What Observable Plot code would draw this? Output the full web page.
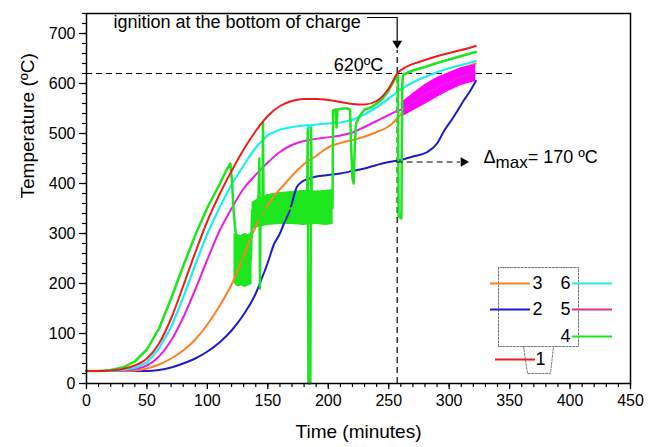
<!DOCTYPE html>
<html><head><meta charset="utf-8">
<script src="https://cdn.jsdelivr.net/npm/d3@7"></script>
<script src="https://cdn.jsdelivr.net/npm/@observablehq/plot@0.6"></script>
<style>body{margin:0;background:#fff;}</style>
</head><body><div id="chart"></div>
<script>
// ---- tick labels ----
const xTicks = [0, 50, 100, 150, 200, 250, 300, 350, 400, 450];
const yTicks = [0, 100, 200, 300, 400, 500, 600, 700];

// ---- series 1 (red) ----
const time1 = [0,10,20,30,40,50,60,70,80,90,100,110,120,130,140,150,160,170,180,190,200,210,220,230,240,250,257,265,275,285,295,305,315,322];
const temp1 = [25,25,26,29,36,50,80,130,195,262,325,378,425,468,505,535,555,565,569,569,567,563,559,558,565,590,620,634,643,651,658,664,670,675];

// ---- series 2 (blue) ----
const time2 = [0,20,40,50,60,70,80,90,100,110,120,130,140,145,150,155,160,163,168,174,178,182,190,200,210,220,230,240,250,258,270,282,290,296,302,307,312,316,320,322];
const temp2 = [25,25,25,25,27,32,40,50,64,82,106,138,180,210,242,278,300,318,345,393,403,408,414,417,420,425,430,437,443,446,454,463,480,506,527,546,566,580,596,605];

// ---- series 3 (orange) ----
const time3 = [0,20,30,40,50,60,70,80,90,100,110,120,130,137,145,155,165,175,182,190,196,202,210,220,229,240,247,252,258,265,273,283,293,303,313,322];
const temp3 = [25,25,25,26,30,38,50,66,88,118,155,198,255,298,338,374,402,428,443,455,466,475,481,487,493,503,510,518,533,550,566,587,606,620,632,640];

// ---- series 4 (green, noisy) ----
const time4 = [0,10,20,30,40,50,60,70,80,90,100,110,116,119,120.5,121.5,123,125,128,132,136,137,142,143,143.5,144,145.5,146,146.5,160,175,182.5,183,183.6,185.2,185.8,186.4,195,203.5,204,206,206.8,207.6,212,216,218,219,220,221,222,223,226,230,235,240,245,250,255,257.5,258.2,260.5,261.2,262,270,280,290,300,310,322];
const temp4 = [25,25,27,32,44,68,110,170,235,297,352,398,428,440,400,350,310,280,250,245,248,345,345,450,190,345,345,522,345,350,350,350,508,0,0,512,350,350,350,546,548,512,548,550,550,548,470,410,400,480,520,535,548,552,560,570,586,608,617,335,330,600,618,626,633,641,648,655,663];
// noise envelopes of series 4
const band4aTime = [122,125,128,131,134,137];
const band4aLow  = [200,193,195,192,195,198];
const band4aHigh = [300,298,296,300,298,302];
const band4bTime = [137,142,150,160,170,180,190,198,204];
const band4bLow  = [308,312,316,318,318,316,318,316,318];
const band4bHigh = [362,370,378,382,384,386,385,386,388];

// ---- series 5 (magenta) ----
const time5 = [0,10,20,30,40,50,60,70,80,90,100,110,120,130,141,150,160,169,182,195,210,220,230,240,250,258,261,270,280,290,300,310,322];
const temp5 = [25,25,25,26,29,36,54,86,132,188,248,305,350,390,420,442,463,476,486,491,496,502,513,525,537,546,548,562,578,592,603,614,620];
const band5Time = [261,270,280,290,300,310,322];
const band5Low  = [533,545,558,572,585,596,604];
const band5High = [563,580,598,612,622,632,638];

// ---- series 6 (cyan) ----
const time6 = [0,10,20,30,40,50,60,70,80,90,100,110,120,127,135,141,150,160,170,180,183,183.5,184,190,200,210,220,230,240,250,257,265,275,285,295,305,315,322];
const temp6 = [25,25,25,27,31,42,70,113,172,238,300,352,398,425,455,475,497,508,513,516,517,500,516,518,520,522,527,538,552,570,583,596,608,618,627,634,640,645];

// ---- annotation values ----
const ignitionTime = 257;
const isoTemp = 620;
const deltaTemp = 443;
const seriesNames = ["1","2","3","4","5","6"];

// ---- layout ----
const W = 664, H = 447;
const M = {left: 86, right: 34, top: 13, bottom: 64};
const xDomain = [0, 450], yDomain = [0, 740];
const px2t = px => xDomain[0] + (px - M.left) / (W - M.left - M.right) * (xDomain[1] - xDomain[0]);
const px2T = py => yDomain[0] + (H - M.bottom - py) / (H - M.top - M.bottom) * (yDomain[1] - yDomain[0]);

const C = {red: "#ee1c1c", blue: "#1c1ccc", orange: "#ff8024", green: "#1ee61e", cyan: "#19f0f0", magenta: "#e61ee6", band5: "#ff00ff", legend5: "#e6308a"};

const rows = (ts, vs) => ts.map((t, i) => ({t, v: vs[i]}));
const bands = (ts, lo, hi) => ts.map((t, i) => ({t, lo: lo[i], hi: hi[i]}));

const FONT = "'Liberation Sans', Arial, sans-serif";
const line = (ts, vs, color, sw, curve) => Plot.line(rows(ts, vs), {x: "t", y: "v", stroke: color, strokeWidth: sw, curve});

// legend geometry (pixels)
const legend = [
  {name: "3", color: C.orange, x1: 490, x2: 530, y: 283, lx: 537},
  {name: "2", color: C.blue,   x1: 490, x2: 530, y: 309, lx: 537},
  {name: "6", color: C.cyan,   x1: 572, x2: 612, y: 283, lx: 565},
  {name: "5", color: C.legend5,x1: 572, x2: 612, y: 309, lx: 565},
  {name: "4", color: C.green,  x1: 572, x2: 612, y: 336, lx: 565},
  {name: "1", color: C.red,    x1: 495, x2: 535, y: 359, lx: 540}
];
const boxPath = [[498,346],[498,267],[578,267],[578,346],[498,346]].map(([x,y]) => ({t: px2t(x), v: px2T(y)}));
const tabPath = [[523,346],[527,373],[550,373],[553,346]].map(([x,y]) => ({t: px2t(x), v: px2T(y)}));

const plot = Plot.plot({
  width: W, height: H,
  marginLeft: M.left, marginRight: M.right, marginTop: M.top, marginBottom: M.bottom,
  x: {domain: xDomain, label: null},
  y: {domain: yDomain, label: null},
  style: {fontFamily: FONT, background: "#fff", color: "#000"},
  marks: [
    Plot.ruleY([isoTemp], {x1: 0, x2: px2t(512), stroke: "#000", strokeWidth: 1.2, strokeDasharray: "6,4"}),
    Plot.ruleX([ignitionTime], {y1: 0, y2: px2T(50), stroke: "#000", strokeWidth: 1.2, strokeDasharray: "6,4"}),
    Plot.areaY(bands(band4aTime, band4aLow, band4aHigh), {x: "t", y1: "lo", y2: "hi", fill: C.green}),
    Plot.areaY(bands(band4bTime, band4bLow, band4bHigh), {x: "t", y1: "lo", y2: "hi", fill: C.green}),
    line(time2, temp2, C.blue, 2, "monotone-x"),
    line(time3, temp3, C.orange, 2, "monotone-x"),
    Plot.areaY(bands(band5Time, band5Low, band5High), {x: "t", y1: "lo", y2: "hi", fill: C.band5}),
    line(time5, temp5, C.magenta, 2, "monotone-x"),
    line(time6, temp6, C.cyan, 2.2, "linear"),
    line(time4, temp4, C.green, 2.5, "linear"),
    line(time1, temp1, C.red, 2, "monotone-x"),
    // Δmax arrow
    Plot.ruleY([deltaTemp], {x1: ignitionTime, x2: px2t(460), stroke: "#000", strokeWidth: 1.2, strokeDasharray: "6,4"}),
    Plot.dot([{t: px2t(463), v: deltaTemp}], {x: "t", y: "v", symbol: "triangle", r: 3.6, rotate: 90, fill: "#000", stroke: null}),
    // ignition bracket arrow
    Plot.line([{t: px2t(367), v: px2T(17)}, {t: ignitionTime, v: px2T(17)}, {t: ignitionTime, v: px2T(42)}], {x: "t", y: "v", stroke: "#000", strokeWidth: 1.2}),
    Plot.dot([{t: ignitionTime, v: px2T(43)}], {x: "t", y: "v", symbol: "triangle", r: 3.6, rotate: 180, fill: "#000", stroke: null}),
    Plot.text(["ignition at the bottom of charge"], {x: px2t(113), y: px2T(22), text: d => d, textAnchor: "start", fontSize: 18, fill: "#000"}),
    Plot.text([isoTemp + "ºC"], {x: px2t(358), y: px2T(65), text: d => d, fontSize: 18, fill: "#000"}),
    Plot.text(["Δmax= 170 ºC"], {x: px2t(483), y: px2T(157), text: d => d, textAnchor: "start", fontSize: 18, fill: "#000"}),
    // legend
    Plot.line(boxPath, {x: "t", y: "v", stroke: "#777", strokeWidth: 1, strokeDasharray: "2,1.5"}),
    Plot.line(tabPath, {x: "t", y: "v", stroke: "#777", strokeWidth: 1, strokeDasharray: "2,1.5"}),
    Plot.ruleY(legend, {x1: d => px2t(d.x1), x2: d => px2t(d.x2), y: d => px2T(d.y), stroke: d => d.color, strokeWidth: 2}),
    Plot.text(legend, {x: d => px2t(d.lx), y: d => px2T(d.y), text: d => seriesNames[seriesNames.indexOf(d.name)], fontSize: 18, fill: "#000"}),
    // axes
    Plot.axisX({ticks: d3.range(0, 451, 10), tickSize: 4, tickFormat: () => "", label: null, strokeWidth: 1.2}),
    Plot.axisX({ticks: xTicks, tickSize: 6, tickPadding: 5, fontSize: 16, label: null, strokeWidth: 1.2}),
    Plot.axisY({ticks: d3.range(0, 741, 20), tickSize: 4, tickFormat: () => "", label: null, strokeWidth: 1.2}),
    Plot.axisY({ticks: yTicks, tickSize: 7, tickPadding: 4, fontSize: 16, label: null, strokeWidth: 1.2}),
    Plot.frame({stroke: "#000", strokeWidth: 1.5}),
    Plot.text(["Time (minutes)"], {frameAnchor: "bottom", dy: 54, text: d => d, fontSize: 19, fill: "#000"}),
    Plot.text(["Temperature (ºC)"], {frameAnchor: "left", dx: -59, rotate: -90, text: d => d, fontSize: 19, fill: "#000"})
  ]
});

// subscript "max"
d3.select(plot).selectAll("text").filter(function() { return this.textContent === "Δmax= 170 ºC"; }).each(function() {
  const t = d3.select(this);
  t.text("");
  t.append("tspan").text("Δ");
  t.append("tspan").attr("dy", "0.3em").attr("font-size", 17).text("max");
  t.append("tspan").attr("dy", "-0.3em").text("= 170 ºC");
});

document.getElementById("chart").appendChild(plot);
</script></body></html>
